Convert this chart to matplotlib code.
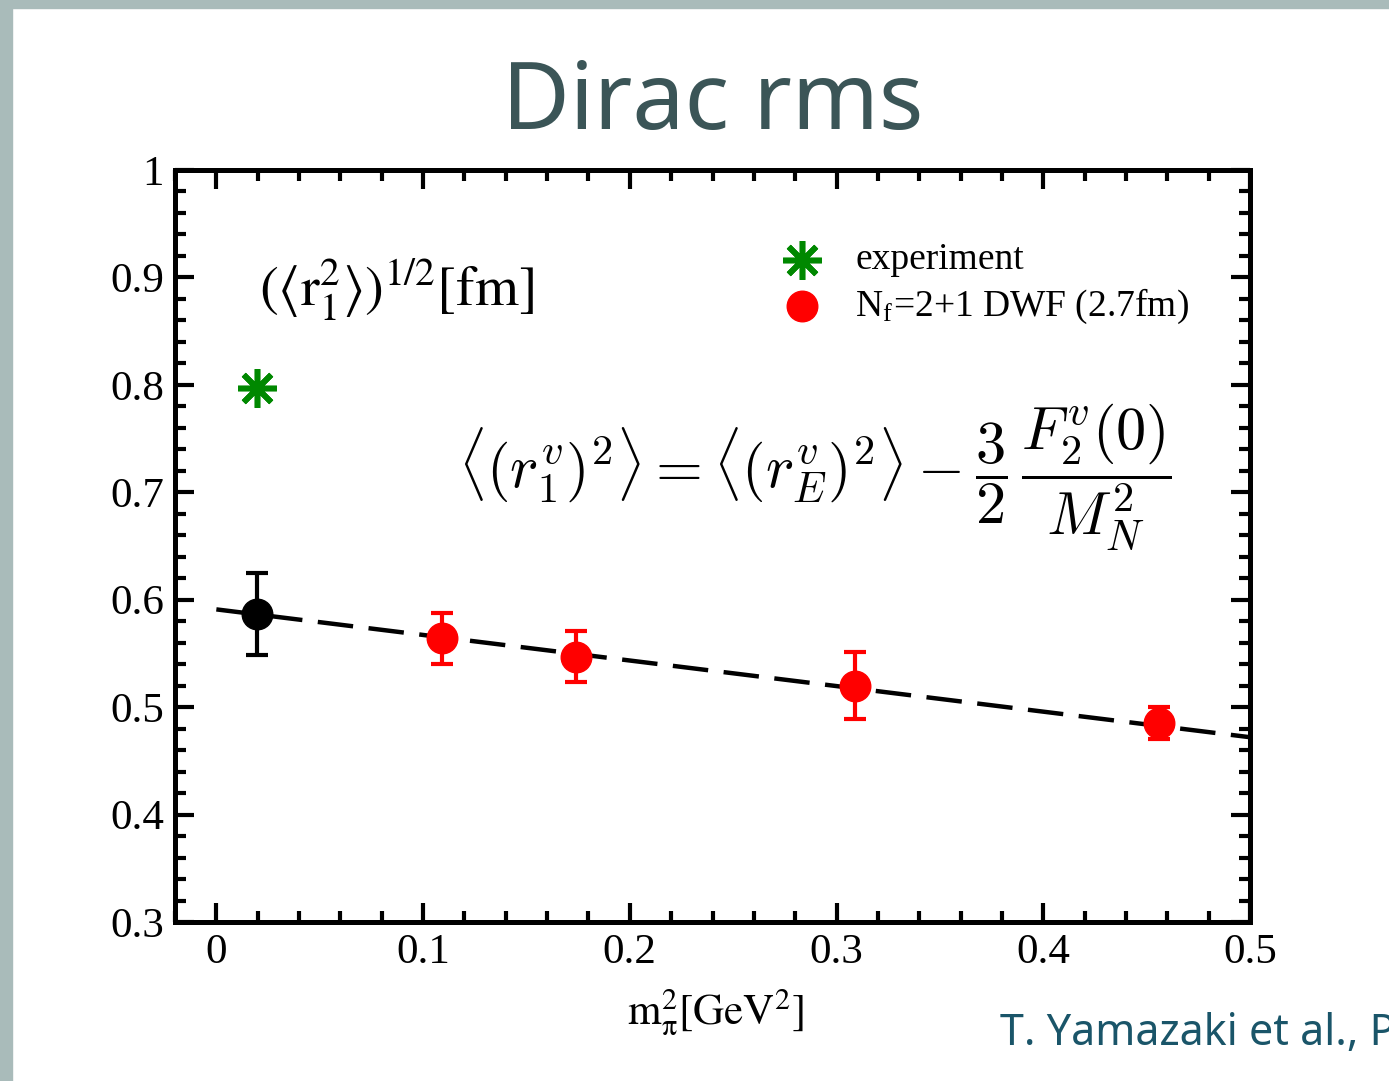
import matplotlib
matplotlib.use("Agg")
import matplotlib.pyplot as plt
from matplotlib.patches import Rectangle
from matplotlib.ticker import MultipleLocator

# ---- data ----
exp_x = [0.0195]
exp_y = [0.797]

lat_x = [0.109, 0.174, 0.309, 0.456]
lat_y = [0.564, 0.547, 0.520, 0.485]
lat_err = [0.024, 0.024, 0.031, 0.015]

chi_x = [0.0195]
chi_y = [0.587]
chi_err = [0.038]

fit_x = [0.0, 0.5]
fit_y = [0.591, 0.472]

xticks = [0, 0.1, 0.2, 0.3, 0.4, 0.5]
xticklabels = ["0", "0.1", "0.2", "0.3", "0.4", "0.5"]
yticks = [0.3, 0.4, 0.5, 0.6, 0.7, 0.8, 0.9, 1.0]
yticklabels = ["0.3", "0.4", "0.5", "0.6", "0.7", "0.8", "0.9", "1"]

plt.rcParams['font.family'] = ['Liberation Serif', 'DejaVu Serif']
plt.rcParams['mathtext.fontset'] = 'stix'

W, H = 1389, 1081
fig = plt.figure(figsize=(W / 100, H / 100), dpi=100)
fig.patch.set_facecolor('white')

# slide border stripes
border = '#a9bbba'
fig.patches.append(Rectangle((0, 0), 12 / W, 1, transform=fig.transFigure,
                             color=border, zorder=0))
fig.patches.append(Rectangle((0, 1 - 8 / H), 1, 8 / H, transform=fig.transFigure,
                             color=border, zorder=0))

ax = fig.add_axes([175 / W, 1 - 922 / H, (1250 - 175) / W, (922 - 170) / H])
ax.set_xlim(-0.02, 0.5)
ax.set_ylim(0.3, 1.0)

for s in ax.spines.values():
    s.set_linewidth(3.6)

ax.set_xticks(xticks)
ax.set_xticklabels(xticklabels)
ax.set_yticks(yticks)
ax.set_yticklabels(yticklabels)
ax.xaxis.set_minor_locator(MultipleLocator(0.02))
ax.yaxis.set_minor_locator(MultipleLocator(0.02))
ax.tick_params(which='both', direction='in', top=True, right=True, width=3)
ax.tick_params(which='major', length=14, labelsize=31, pad=8)
ax.tick_params(which='minor', length=8)

# fit line
ax.plot(fit_x, fit_y, color='black', lw=3.2, dashes=(8, 3.5), zorder=3)

# lattice points
ax.errorbar(lat_x, lat_y, yerr=lat_err, fmt='o', color='#ff0000', ms=22,
            elinewidth=3, capsize=8, capthick=3, zorder=4)
# chiral extrapolation
ax.errorbar(chi_x, chi_y, yerr=chi_err, fmt='o', color='black', ms=22,
            elinewidth=3, capsize=8, capthick=3, zorder=5)
# experiment
ax.plot(exp_x, exp_y, marker=(8, 2, 0), ms=28, mew=4, color='#008800',
        ls='none', zorder=5)

# legend (manual)
ax.plot([0.2835], [0.916], marker=(8, 2, 0), ms=28, mew=4, color='#008800',
        ls='none', clip_on=False)
ax.plot([0.2835], [0.873], marker='o', ms=22, color='#ff0000', ls='none')
ax.text(0.309, 0.916, "experiment", fontsize=27, va='center', ha='left')
ax.text(0.309, 0.873, r"N$_\mathregular{f}$=2+1 DWF (2.7fm)", fontsize=27,
        va='center', ha='left')

# inner y label
ax.text(0.0205, 0.888,
        r"$(\langle\mathrm{r}_{1}^{2}\rangle)^{1/2}[\mathrm{fm}]$",
        fontsize=40.5, va='center', ha='left')

# formula
ax.text(0.2896, 0.714,
        r"$\langle(r_1^v)^2\rangle = \langle(r_E^v)^2\rangle - \dfrac{3}{2}\,\dfrac{F_2^v(0)}{M_N^2}$",
        fontsize=43.5, va='center', ha='center', math_fontfamily='cm')

# x label
fig.text(715 / W, 1 - 1012 / H, r"$\mathrm{m}_{\mathrm{\pi}}^{2}[\mathrm{GeV}^{2}]$",
         fontsize=31, ha='center', va='center')

# title
fig.text(713 / W, 1 - 104 / H, "Dirac rms", fontsize=67, ha='center',
         va='center', color='#3b5557', family='Noto Sans')

# citation
fig.text(1000 / W, 1 - 1045 / H, "T. Yamazaki et al., PRD 79, 114505 (2009)",
         fontsize=31, ha='left', va='baseline', color='#1a5569',
         family='Noto Sans')

fig.savefig("out.png", dpi=100, facecolor='white')
